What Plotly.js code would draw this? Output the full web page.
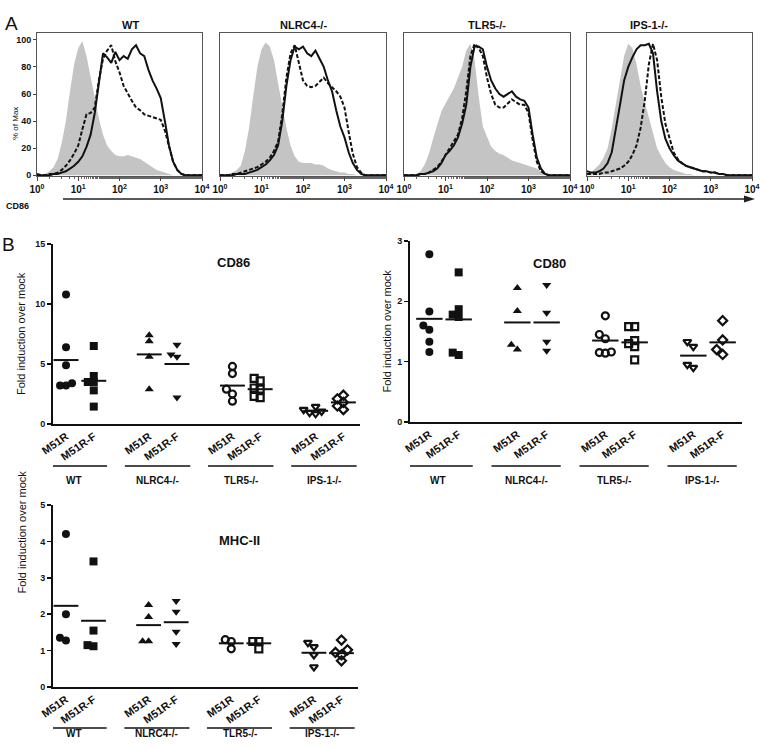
<!DOCTYPE html>
<html>
<head>
<meta charset="utf-8">
<script src="https://cdn.plot.ly/plotly-3.0.1.min.js"></script>
<style>
  html, body { margin: 0; padding: 0; background: #fff; }
  #fig { width: 760px; height: 748px; }
</style>
</head>
<body>
<div id="fig"></div>
<script>
// ---- Panel A: CD86 histograms, % of max per log10 channel bin ----
const logBins = [0, 0.1, 0.2, 0.3, 0.4, 0.5, 0.6, 0.7, 0.8, 0.9, 1.0, 1.1, 1.2, 1.3, 1.4, 1.5, 1.6, 1.7, 1.8, 1.9, 2.0,
  2.1, 2.2, 2.3, 2.4, 2.5, 2.6, 2.7, 2.8, 2.9, 3.0, 3.1, 3.2, 3.3, 3.4, 3.5, 3.6, 3.7, 3.8, 3.9, 4.0];

const histTitles = ['WT', 'NLRC4-/-', 'TLR5-/-', 'IPS-1-/-'];

const shadedWT = [0, 0, 1, 3, 6, 12, 24, 40, 62, 82, 94, 99, 88, 72, 58, 42, 30, 22, 18, 15, 14, 14, 15, 14, 13, 12, 10, 8, 6, 4, 3, 2, 1, 0, 0, 0, 0, 0, 0, 0, 0];
const solidWT = [1, 0, 0, 0, 1, 1, 2, 3, 5, 7, 10, 14, 21, 30, 46, 68, 90, 87, 83, 91, 85, 88, 86, 93, 96, 90, 88, 78, 70, 64, 57, 40, 22, 10, 4, 1, 0, 0, 0, 0, 0];
const dashedWT = [0, 0, 0, 1, 1, 2, 4, 7, 11, 16, 22, 34, 45, 46, 50, 70, 86, 92, 96, 84, 76, 66, 60, 55, 50, 48, 45, 44, 43, 42, 41, 33, 21, 10, 4, 1, 0, 0, 0, 0, 0];

const shadedNLRC4 = [0, 0, 1, 2, 4, 7, 18, 35, 58, 80, 93, 98, 95, 85, 68, 50, 35, 22, 14, 10, 9, 9, 9, 8, 8, 7, 5, 4, 3, 2, 2, 1, 1, 0, 0, 0, 0, 0, 0, 0, 0];
const solidNLRC4 = [0, 0, 0, 0, 1, 1, 1, 2, 3, 4, 6, 8, 11, 15, 22, 40, 66, 85, 95, 93, 95, 90, 88, 92, 86, 80, 70, 62, 48, 36, 28, 17, 9, 4, 1, 0, 0, 0, 0, 0, 0];
const dashedNLRC4 = [0, 0, 0, 1, 1, 2, 3, 4, 5, 6, 8, 10, 13, 18, 25, 45, 72, 90, 96, 82, 70, 66, 65, 66, 69, 72, 68, 65, 62, 58, 50, 32, 16, 6, 2, 0, 0, 0, 0, 0, 0];

const shadedTLR5 = [0, 0, 0, 1, 3, 8, 16, 27, 37, 47, 53, 58, 64, 72, 80, 92, 97, 85, 58, 36, 28, 21, 18, 16, 15, 13, 11, 10, 9, 8, 7, 6, 5, 3, 1, 0, 0, 0, 0, 0, 0];
const solidTLR5 = [0, 0, 0, 0, 1, 1, 2, 3, 5, 9, 15, 18, 22, 28, 38, 52, 80, 95, 95, 93, 80, 70, 64, 60, 58, 60, 62, 58, 56, 55, 50, 30, 13, 5, 1, 0, 0, 0, 0, 0, 0];
const dashedTLR5 = [0, 0, 0, 0, 1, 1, 2, 4, 6, 10, 15, 19, 24, 30, 42, 62, 88, 97, 94, 88, 72, 60, 52, 50, 50, 53, 56, 54, 52, 52, 46, 26, 10, 3, 1, 0, 0, 0, 0, 0, 0];

const shadedIPS = [1, 2, 5, 8, 13, 20, 35, 52, 72, 88, 97, 94, 82, 66, 54, 42, 30, 20, 14, 9, 6, 4, 3, 2, 1, 1, 0, 0, 0, 0, 0, 0, 0, 0, 0, 0, 0, 0, 0, 0, 0];
const solidIPS = [3, 2, 2, 3, 5, 9, 17, 33, 52, 70, 80, 87, 93, 96, 96, 97, 90, 62, 40, 27, 20, 15, 11, 9, 7, 6, 5, 4, 3, 3, 2, 2, 1, 1, 0, 0, 0, 0, 0, 0, 0];
const dashedIPS = [1, 1, 1, 1, 2, 2, 3, 4, 5, 7, 10, 15, 22, 35, 55, 82, 97, 85, 58, 38, 27, 17, 12, 9, 7, 6, 5, 4, 3, 3, 2, 2, 1, 1, 0, 0, 0, 0, 0, 0, 0];

const histShaded = [shadedWT, shadedNLRC4, shadedTLR5, shadedIPS];
const histSolid = [solidWT, solidNLRC4, solidTLR5, solidIPS];
const histDashed = [dashedWT, dashedNLRC4, dashedTLR5, dashedIPS];

// ---- Panel B: fold induction over mock ----
const groups = ['WT', 'NLRC4-/-', 'TLR5-/-', 'IPS-1-/-'];
const viruses = ['M51R', 'M51R-F', 'M51R', 'M51R-F', 'M51R', 'M51R-F', 'M51R', 'M51R-F'];
const catPos = [1, 2, 4, 5, 7, 8, 10, 11];

const cd86Points = [
  [10.8, 6.4, 4.9, 3.4, 3.2, 3.2],
  [6.5, 4.0, 3.5, 3.5, 2.8, 1.45],
  [7.4, 6.9, 5.6, 2.9],
  [6.6, 5.8, 5.6, 2.2],
  [4.8, 4.2, 2.9, 2.5, 1.9],
  [3.8, 3.6, 3.0, 2.9, 2.3, 2.2],
  [1.45, 1.2, 1.05, 0.95, 0.85],
  [2.4, 2.1, 1.8, 1.5, 1.2]
];
const cd86Means = [5.33, 3.6, 5.8, 5.0, 3.2, 2.9, 1.1, 1.8];

const cd80Points = [
  [2.78, 1.83, 1.6, 1.53, 1.33, 1.16],
  [2.48, 1.87, 1.78, 1.74, 1.11, 1.15],
  [2.22, 1.84, 1.28, 1.2],
  [2.27, 1.81, 1.33, 1.18],
  [1.76, 1.45, 1.38, 1.16, 1.14, 1.15],
  [1.58, 1.58, 1.35, 1.3, 1.25, 1.03],
  [1.33, 1.25, 0.95, 0.9],
  [1.68, 1.36, 1.2, 1.12]
];
const cd80Means = [1.71, 1.7, 1.65, 1.65, 1.35, 1.32, 1.1, 1.32];

const mhcPoints = [
  [4.2, 2.0, 1.35, 1.28],
  [3.45, 1.55, 1.12, 1.15],
  [2.25, 1.92, 1.26, 1.26],
  [2.36, 2.07, 1.52, 1.18],
  [1.3, 1.25, 1.05],
  [1.25, 1.25, 1.05],
  [1.22, 1.1, 0.88, 0.55],
  [1.29, 1.02, 0.95, 0.88, 0.72]
];
const mhcMeans = [2.23, 1.82, 1.7, 1.78, 1.2, 1.2, 0.94, 0.93];

const symbols = ['circle', 'square', 'triangle-up', 'triangle-down',
  'circle-open', 'square-open', 'triangle-down-open', 'diamond-open'];

// ---- helpers ----
const W = 760, H = 748;
const fx = x => x / W;
const fy = y => 1 - y / H;
const FONT = 'Liberation Sans, Arial, sans-serif';

// spread points of similar value sideways, like a column scatter
function swarm(vals, yScale, xScale, d) {
  const placed = [];
  const off = vals.map(() => 0);
  const order = vals.map((v, i) => i).sort((a, b) => vals[a] - vals[b]);
  order.forEach(i => {
    const yp = vals[i] * yScale;
    for (let k = 0; k < 30; k++) {
      const cand = (k === 0 ? 0 : (k % 2 ? -1 : 1) * Math.ceil(k / 2)) * d * 0.75;
      if (placed.every(p => Math.hypot(p.x - cand, p.y - yp) >= d * 0.7)) {
        off[i] = cand / xScale;
        placed.push({ x: cand, y: yp });
        break;
      }
    }
  });
  return off;
}

const traces = [];
const layout = {
  width: W, height: H,
  margin: { l: 0, r: 0, t: 0, b: 0 },
  paper_bgcolor: '#fff', plot_bgcolor: '#fff',
  showlegend: false,
  font: { family: FONT, color: '#111' },
  annotations: [], shapes: []
};

// ---- histograms ----
const histX = [[37, 202], [220, 386], [404, 570], [587, 752]];
const histY = [33, 176];
const xs = logBins.map(l => Math.pow(10, l));

histX.forEach((px, i) => {
  const n = i + 1;
  const xa = 'x' + n, ya = 'y' + n;
  traces.push({ x: xs, y: histShaded[i], xaxis: xa, yaxis: ya, mode: 'lines', fill: 'tozeroy',
    fillcolor: '#c4c4c4', line: { width: 0, color: '#c4c4c4' }, hoverinfo: 'skip' });
  traces.push({ x: xs, y: histDashed[i], xaxis: xa, yaxis: ya, mode: 'lines',
    line: { color: '#111', width: 2, dash: '4px,2px' } });
  traces.push({ x: xs, y: histSolid[i], xaxis: xa, yaxis: ya, mode: 'lines',
    line: { color: '#111', width: 2 } });

  layout['xaxis' + n] = {
    domain: [fx(px[0]), fx(px[1])], anchor: ya, type: 'log', range: [0, 4],
    tickvals: [1, 10, 100, 1000, 10000],
    ticktext: ['10<sup>0</sup>', '10<sup>1</sup>', '10<sup>2</sup>', '10<sup>3</sup>', '10<sup>4</sup>'],
    ticklabeloverflow: 'allow',
    ticks: 'outside', ticklen: 4, tickcolor: '#444',
    minor: { ticks: 'outside', ticklen: 2, tickcolor: '#666', showgrid: false },
    tickfont: { size: 10, weight: 'bold' },
    showline: true, mirror: true, linecolor: '#555', linewidth: 1,
    showgrid: false, zeroline: false
  };
  layout['yaxis' + n] = {
    domain: [fy(histY[1]), fy(histY[0])], anchor: xa, range: [-0.5, 105],
    tickvals: [0, 20, 40, 60, 80, 100],
    ticks: i === 0 ? 'outside' : '', ticklen: 3, tickcolor: '#444',
    showticklabels: i === 0, tickfont: { size: 9, weight: 'bold' },
    showline: true, mirror: true, linecolor: '#555', linewidth: 1,
    showgrid: false, zeroline: false
  };
  layout.annotations.push({ xref: 'paper', yref: 'paper', x: fx((px[0] + px[1]) / 2), y: fy(17),
    text: histTitles[i], showarrow: false, font: { size: 11, weight: 'bold' } });
});

layout.annotations.push({ xref: 'paper', yref: 'paper', x: fx(9), y: fy(105), text: '% of Max',
  textangle: -90, showarrow: false, font: { size: 8 } });
layout.annotations.push({ xref: 'paper', yref: 'paper', x: fx(3), y: fy(11), xanchor: 'left',
  text: 'A', showarrow: false, font: { size: 19 } });
layout.annotations.push({ xref: 'paper', yref: 'paper', x: fx(4), y: fy(199), xanchor: 'left',
  text: 'CD86', showarrow: false, font: { size: 9, weight: 'bold' } });
layout.shapes.push({ type: 'line', xref: 'paper', yref: 'paper', x0: fx(63), x1: fx(746), y0: fy(199), y1: fy(199),
  line: { color: '#222', width: 1.5 } });
layout.shapes.push({ type: 'path', xref: 'paper', yref: 'paper',
  path: `M ${fx(744)} ${fy(195.5)} L ${fx(755)} ${fy(199)} L ${fx(744)} ${fy(202.5)} Z`,
  fillcolor: '#222', line: { width: 0 } });

// ---- dot plots ----
const dotPanels = [
  { n: 5, title: 'CD86', pts: cd86Points, means: cd86Means, x: [53, 360], y: [244, 424], range: [0, 15], dtick: 5,
    xr: [0.53, 11.6], titlePos: [215, 262], lineY: 466, labY: 480, ytitleX: 13 },
  { n: 6, title: 'CD80', pts: cd80Points, means: cd80Means, x: [410, 742], y: [241, 422], range: [0, 3], dtick: 1,
    xr: [0.34, 11.66], titlePos: [568, 263], lineY: 466, labY: 480, ytitleX: 387 },
  { n: 7, title: 'MHC-II', pts: mhcPoints, means: mhcMeans, x: [53, 358], y: [505, 687], range: [0, 5], dtick: 1,
    xr: [0.53, 11.6], titlePos: [217, 550], lineY: 728, labY: 741, ytitleX: 13 }
];

dotPanels.forEach(p => {
  const xa = 'x' + p.n, ya = 'y' + p.n;
  const yScale = (p.y[1] - p.y[0]) / (p.range[1] - p.range[0]);
  const xScale = (p.x[1] - p.x[0]) / (p.xr[1] - p.xr[0]);
  p.pts.forEach((vals, j) => {
    const off = swarm(vals, yScale, xScale, 8);
    const open = symbols[j].endsWith('open');
    traces.push({
      x: vals.map((v, k) => catPos[j] + off[k]), y: vals, xaxis: xa, yaxis: ya,
      mode: 'markers', cliponaxis: false,
      marker: { symbol: symbols[j], size: open ? 7 : 8, color: '#111',
        line: { color: '#111', width: open ? 2.2 : 0 } }
    });
  });
  const mx = [], my = [];
  p.means.forEach((m, j) => { mx.push(catPos[j] - 0.45, catPos[j] + 0.45, null); my.push(m, m, null); });
  traces.push({ x: mx, y: my, xaxis: xa, yaxis: ya, mode: 'lines', line: { color: '#111', width: 2 } });

  layout['xaxis' + p.n] = {
    domain: [fx(p.x[0]), fx(p.x[1])], anchor: ya, range: p.xr,
    tickvals: catPos, ticktext: viruses, tickangle: -35, ticks: '',
    tickfont: { size: 11, weight: 'bold' },
    showline: true, linecolor: '#111', linewidth: 2, showgrid: false, zeroline: false
  };
  layout['yaxis' + p.n] = {
    domain: [fy(p.y[1]), fy(p.y[0])], anchor: xa, range: p.range, dtick: p.dtick,
    ticks: 'outside', ticklen: 4, tickwidth: 1.5, tickcolor: '#111',
    tickfont: { size: 9, weight: 'bold' },
    showline: true, linecolor: '#111', linewidth: 2, showgrid: false, zeroline: false
  };
  layout.annotations.push({ xref: 'paper', yref: 'paper', x: fx(p.ytitleX), y: fy((p.y[0] + p.y[1]) / 2),
    text: 'Fold induction over mock', textangle: -90, showarrow: false, font: { size: 11 } });
  layout.annotations.push({ xref: 'paper', yref: 'paper', x: fx(p.titlePos[0]), y: fy(p.titlePos[1]),
    text: p.title, showarrow: false, font: { size: 13, weight: 'bold' } });

  groups.forEach((g, gi) => {
    const c = (catPos[2 * gi] + catPos[2 * gi + 1]) / 2 - 0.2;
    layout.shapes.push({ type: 'line', xref: xa, yref: 'paper', x0: c - 1.18, x1: c + 1.18,
      y0: fy(p.lineY), y1: fy(p.lineY), line: { color: '#111', width: 1.5 } });
    layout.annotations.push({ xref: xa, yref: 'paper', x: c, y: fy(p.labY), text: g,
      showarrow: false, font: { size: 10, weight: 'bold' } });
  });
});

layout.annotations.push({ xref: 'paper', yref: 'paper', x: fx(0), y: fy(232), xanchor: 'left',
  text: 'B', showarrow: false, font: { size: 19 } });

Plotly.newPlot('fig', traces, layout, { staticPlot: true });
</script>
</body>
</html>
